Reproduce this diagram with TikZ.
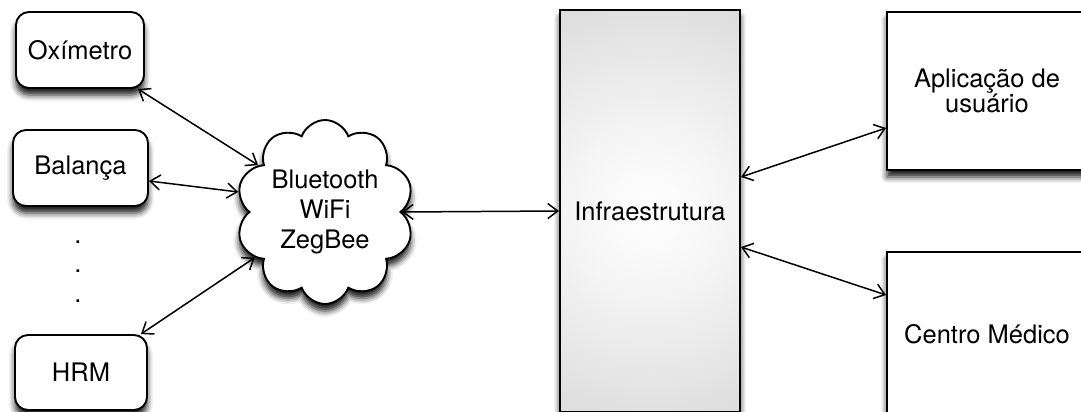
\documentclass[tikz,border=0pt]{standalone}
\usepackage{fontspec}
\setmainfont{TeX Gyre Heros}
\usetikzlibrary{shapes.symbols,arrows.meta,shadows.blur}
\definecolor{gA}{gray}{1.0}
\definecolor{gA2}{gray}{0.965}
\definecolor{gB}{gray}{0.895}
\definecolor{gC}{gray}{0.815}
\definecolor{gD}{gray}{0.755}
\definecolor{gE}{gray}{0.73}
\pgfdeclareradialshading{infrashade}{\pgfpoint{0bp}{0bp}}{color(0bp)=(gA); color(8bp)=(gA2); color(20bp)=(gB); color(33bp)=(gC); color(45bp)=(gD); color(50bp)=(gE)}
\tikzset{
  shad/.style={blur shadow={shadow xshift=0pt, shadow yshift=-7pt, shadow blur radius=6pt, shadow opacity=90}},
  txt/.style={font=\fontsize{25.5}{30}\selectfont, align=center},
  dev/.style={draw, line width=1.9pt, rounded corners=13pt, fill=white, shad, txt, inner sep=0pt},
  bigbox/.style={draw, line width=1.9pt, fill=white, shad, txt, inner sep=0pt},
  conn/.style={<->, line width=1.5pt},
  >={Straight Barb[length=10pt,width=15pt]},
}
\begin{document}
\begin{tikzpicture}[x=1pt,y=-1pt]
\useasboundingbox (0,0) rectangle (1081,412);
\node[dev, minimum width=128pt, minimum height=76pt] (ox) at (80,50) {Oxímetro};
\node[dev, minimum width=135pt, minimum height=76pt] (ba) at (80.5,168) {Balança};
\node[dev, minimum width=132pt, minimum height=75pt] (hrm) at (81,372.5) {HRM};
\node[txt, inner sep=0pt, anchor=base] (d1) at (78,243) {.};
\node[txt, inner sep=0pt, anchor=base] (d2) at (78,272) {.};
\node[txt, inner sep=0pt, anchor=base] (d3) at (78,302) {.};
\node[cloud, cloud puffs=10, cloud puff arc=140, cloud ignores aspect, draw, line width=1.9pt, fill=white, shad, txt, inner sep=0pt, minimum width=178pt, minimum height=184pt] (cl) at (325,212) {Bluetooth\\WiFi\\ZegBee};
\node[draw, line width=2pt, minimum width=180pt, minimum height=401pt, shad, txt, inner sep=0pt,
  path picture={\shade[shading=infrashade] (path picture bounding box.center) circle (222pt);}] (inf) at (650,211) {Infraestrutura};
\node[bigbox, font=\fontsize{25.5}{25}\selectfont, minimum width=200pt, minimum height=158pt] (ap) at (987,91) {Aplicação de\\usuário};
\node[bigbox, minimum width=200pt, minimum height=164pt] (cm) at (987,334) {Centro Médico};
\draw[conn] ([xshift=-7pt]ox.south east) -- (cl.145);
\draw[conn] ([yshift=-13pt]ba.east) -- (cl.167);
\draw[conn] ([xshift=-7pt]hrm.north east) -- (cl.213);
\draw[conn] (cl.east) -- (inf.west);
\draw[conn] ([yshift=34pt]inf.east) -- ([yshift=-37pt]ap.west);
\draw[conn] ([yshift=-36pt]inf.east) -- ([yshift=39pt]cm.west);
\end{tikzpicture}
\end{document}
